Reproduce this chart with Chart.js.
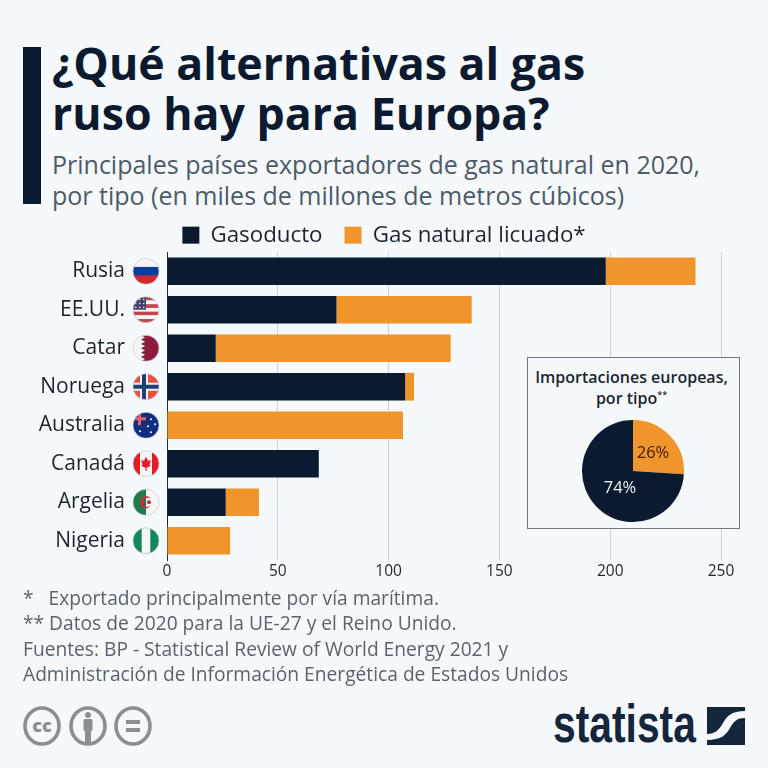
<!DOCTYPE html>
<html lang="es"><head><meta charset="utf-8">
<script src="https://cdn.jsdelivr.net/npm/chart.js@4"></script>
<style>
html,body{margin:0;padding:0;background:#f5f9fc;}
body{width:768px;height:768px;position:relative;overflow:hidden;font-family:"Open Sans",sans-serif;}
.a{position:absolute;white-space:nowrap;}
#bar{left:23px;top:47px;width:18px;height:157px;background:#0b1a2e;}
#title{left:52px;top:38px;font-size:44.7px;font-weight:700;line-height:50px;color:#0b1a2e;}
#sub{left:52px;top:149px;font-size:25px;line-height:31px;color:#4c5a69;}
#main{position:absolute;left:0;top:202px;width:768px;height:388px;}
#box{left:527px;top:357px;width:211px;height:170px;border:1px solid #6e7a86;background:#f5f9fc;}
#boxt{left:527px;top:367px;width:209px;text-align:center;font-size:16px;font-weight:600;line-height:20.5px;color:#1b2530;}
#boxt sup{font-size:9px;line-height:0;}
#pieWrap{position:absolute;left:573px;top:411px;width:120px;height:120px;}
#notes{left:23px;top:586px;font-size:19.2px;line-height:24.5px;color:#59636e;}
#src{left:23px;top:636px;font-size:19.2px;line-height:25px;color:#59636e;}
#logo{left:553px;top:696px;font-family:"Liberation Sans Narrow","Liberation Sans",sans-serif;font-weight:700;font-size:53px;line-height:56px;color:#14263c;transform-origin:0 0;transform:scaleX(.77);}
svg.a{overflow:visible;}
</style></head><body>
<div id="bar" class="a"></div>
<div id="title" class="a">¿Qué alternativas al gas<br>ruso hay para Europa?</div>
<div id="sub" class="a">Principales países exportadores de gas natural en 2020,<br>por tipo (en miles de millones de metros cúbicos)</div>
<div id="main"><canvas id="c1"></canvas></div>
<div id="box" class="a"></div>
<div id="boxt" class="a">Importaciones europeas,<br>por tipo<sup>**</sup></div>
<div id="pieWrap"><canvas id="c2"></canvas></div>
<div id="notes" class="a">*&nbsp;&nbsp; Exportado principalmente por vía marítima.<br>** Datos de 2020 para la UE-27 y el Reino Unido.</div>
<div id="src" class="a">Fuentes: BP - Statistical Review of World Energy 2021 y<br>Administración de Información Energética de Estados Unidos</div>
<svg class="a" style="left:0;top:690px" width="170" height="78">
 <g fill="none" stroke="#8a8f94" stroke-width="3.6"><ellipse cx="42" cy="36" rx="17" ry="18"/><ellipse cx="88" cy="36" rx="17" ry="18"/><ellipse cx="133" cy="36" rx="17" ry="18"/></g>
 <text x="42" y="42" text-anchor="middle" font-family="Open Sans" font-weight="800" font-size="18" fill="#8a8f94">cc</text>
 <g fill="#8a8f94"><circle cx="88" cy="25" r="3"/><rect x="83.5" y="29" width="9" height="12" rx="1.5"/><rect x="85" y="41" width="6" height="12"/>
 <rect x="126" y="30" width="14" height="4"/><rect x="126" y="38" width="14" height="4"/></g>
</svg>
<div id="logo" class="a">statista</div>
<svg class="a" style="left:707px;top:707px" width="38" height="38">
 <path d="M0 0H38V4C24 4 20 9 16 16C12 23 8 27 0 27Z" fill="#14263c"/>
 <path d="M38 11V38H0V33C14 33 19 28 23 21C27 14 30 11 38 11Z" fill="#14263c"/>
</svg>
<script>
const categories=["Rusia","EE.UU.","Catar","Noruega","Australia","Canadá","Argelia","Nigeria"];
const pipeline=[198,76.5,22,107.5,0,68.5,26.5,0];
const lng=[40.5,61,106,4,106.5,0,15,28.5];
const seriesNames=["Gasoducto","Gas natural licuado*"];
const xTicks=[0,50,100,150,200,250];
const pieLabels=["GNL","Gasoducto"];
const pieValues=[26,74];
const DARK="#0b1a2e",ORANGE="#f0952c";
const FONT='"Open Sans",sans-serif';

const flags={
 "Rusia":(g,X,Y)=>{["#f4f4f4","#0b3f9e","#d22630"].forEach((k,i)=>{g.fillStyle=k;g.fillRect(X-13,Y-13+i*8.67,26,9);});},
 "EE.UU.":(g,X,Y)=>{for(let i=0;i<7;i++){g.fillStyle=i%2?"#f5f5f5":"#c8414b";g.fillRect(X-13,Y-13+i*3.72,26,3.8);}g.fillStyle="#41416e";g.fillRect(X-13,Y-13,13,13);
   g.fillStyle="#e8e8f0";for(let a=0;a<3;a++)for(let b=0;b<3;b++)g.fillRect(X-11+a*4,Y-11+b*4,1.4,1.4);},
 "Catar":(g,X,Y)=>{g.fillStyle="#f5f5f5";g.fillRect(X-13,Y-13,26,26);g.fillStyle="#8d1b3d";g.beginPath();g.moveTo(X+13,Y-13);g.lineTo(X-5,Y-13);
   for(let i=0;i<6;i++){g.lineTo(X-1,Y-13+(i+.5)*26/6*1);g.lineTo(X-5,Y-13+(i+1)*26/6);}g.lineTo(X+13,Y+13);g.closePath();g.fill();},
 "Noruega":(g,X,Y)=>{g.fillStyle="#e8513f";g.fillRect(X-13,Y-13,26,26);g.fillStyle="#f5f5f5";g.fillRect(X-6,Y-13,8,26);g.fillRect(X-13,Y-4,26,8);g.fillStyle="#1d3f72";g.fillRect(X-4,Y-13,4,26);g.fillRect(X-13,Y-2,26,4);},
 "Australia":(g,X,Y)=>{g.fillStyle="#0f2f7e";g.fillRect(X-13,Y-13,26,26);g.fillStyle="#e8616a";g.fillRect(X-13,Y-8,13,3);g.fillRect(X-8,Y-13,3,13);g.fillStyle="#f5f5f5";[[5,-6],[9,-1],[2,1],[5,7],[-6,6]].forEach(p=>{g.beginPath();g.arc(X+p[0],Y+p[1],1.1,0,7);g.fill();});},
 "Canadá":(g,X,Y)=>{g.fillStyle="#f5f5f5";g.fillRect(X-13,Y-13,26,26);g.fillStyle="#e31d25";g.fillRect(X-13,Y-13,7,26);g.fillRect(X+6,Y-13,7,26);g.beginPath();g.moveTo(X,Y-7);g.lineTo(X+2,Y-3);g.lineTo(X+5,Y-3.5);g.lineTo(X+3.5,Y+1);g.lineTo(X+5,Y+2);g.lineTo(X+.6,Y+4);g.lineTo(X+.6,Y+7);g.lineTo(X-.6,Y+7);g.lineTo(X-.6,Y+4);g.lineTo(X-5,Y+2);g.lineTo(X-3.5,Y+1);g.lineTo(X-5,Y-3.5);g.lineTo(X-2,Y-3);g.closePath();g.fill();},
 "Argelia":(g,X,Y)=>{g.fillStyle="#1f7a4d";g.fillRect(X-13,Y-13,13,26);g.fillStyle="#f5f5f5";g.fillRect(X,Y-13,13,26);g.fillStyle="#d2293a";g.beginPath();g.arc(X,Y,6,.9,5.4);g.arc(X+1.5,Y,4.5,5.2,1.1,true);g.closePath();g.fill();g.beginPath();g.arc(X+3,Y,2,0,7);g.fill();},
 "Nigeria":(g,X,Y)=>{g.fillStyle="#10875a";g.fillRect(X-13,Y-13,26,26);g.fillStyle="#f5f5f5";g.fillRect(X-4.3,Y-13,8.6,26);}
};
const flagPlugin={id:"flags",
 afterInit(ch){const f=ch.legend.fit;ch.legend.fit=function(){f.call(this);this.height=50;};},
 afterDraw(ch){const g=ch.ctx,sc=ch.scales.y;categories.forEach((n,i)=>{const Y=sc.getPixelForValue(i),X=146;g.save();g.beginPath();g.arc(X,Y,13,0,Math.PI*2);g.clip();flags[n](g,X,Y);g.restore();
  g.save();g.strokeStyle="#c5ccd3";g.lineWidth=.7;g.beginPath();g.arc(X,Y,13,0,Math.PI*2);g.stroke();g.restore();});}};

new Chart(document.getElementById("c1"),{type:"bar",plugins:[flagPlugin],
 data:{labels:categories,datasets:[
  {label:seriesNames[0],data:pipeline,backgroundColor:DARK},
  {label:seriesNames[1],data:lng,backgroundColor:ORANGE}]},
 options:{indexAxis:"y",responsive:true,maintainAspectRatio:false,animation:false,
  categoryPercentage:1,barPercentage:.72,
  layout:{padding:0},
  plugins:{tooltip:{enabled:false},
   legend:{position:"top",align:"center",labels:{boxWidth:17,boxHeight:17,padding:22,color:"#1b2530",font:{family:FONT,size:22.3}}}},
  scales:{
   x:{stacked:true,min:0,max:250,afterBuildTicks(a){a.ticks=xTicks.map(v=>({value:v}));},afterFit(a){a.height=30;a.paddingLeft=0;a.paddingRight=47;},
      grid:{color:"#cdd2d7",lineWidth:1,drawTicks:false},border:{display:false},
      ticks:{color:"#1b2530",padding:2,maxRotation:0,font:{family:FONT,size:15.5}}},
   y:{stacked:true,afterFit(a){a.width=167;a.paddingTop=0;a.paddingBottom=0;},grid:{display:false},border:{color:"#222c38",width:1},
      ticks:{color:"#1b2530",padding:34,font:{family:FONT,size:21}}}
  }}});

const pieText={id:"pieText",afterDraw(ch){const g=ch.ctx,m=ch.getDatasetMeta(0);g.save();g.textAlign="center";g.textBaseline="middle";g.font='500 16.5px '+FONT;
  const pos=[[20,-18],[-13,17]],col=["#3a1c05","#eef3f8"];
  m.data.forEach((a,i)=>{g.fillStyle=col[i];g.fillText(pieValues[i]+"%",a.x+pos[i][0],a.y+pos[i][1]);});g.restore();}};
new Chart(document.getElementById("c2"),{type:"pie",plugins:[pieText],
 data:{labels:pieLabels,datasets:[{data:pieValues,backgroundColor:[ORANGE,DARK],borderWidth:0}]},
 options:{responsive:true,maintainAspectRatio:false,animation:false,radius:51,layout:{padding:0},plugins:{legend:{display:false},tooltip:{enabled:false}}}});
</script>
</body></html>
